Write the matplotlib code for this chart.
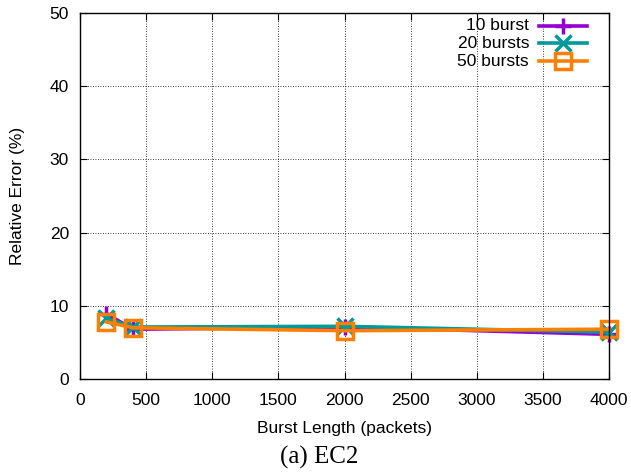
import numpy as np
import matplotlib.pyplot as plt
from matplotlib.lines import Line2D

burst_len = [200, 400, 2000, 4000]
err_10 = [8.9, 6.8, 7.1, 6.1]
err_20 = [8.3, 7.1, 7.2, 6.4]
err_50 = [7.8, 7.0, 6.6, 6.8]
labels = ['10 burst', '20 bursts', '50 bursts']

colors = ['#9400d3', '#009a9a', '#ff7f00']
markers = ['+', 'x', 's']

plt.rcParams['font.family'] = ['Liberation Sans', 'DejaVu Sans']
plt.rcParams['font.size'] = 12.5

fig = plt.figure(figsize=(6.31, 4.74), dpi=100)
ax = fig.add_axes([80/631, 1-379/474, 529/631, 366/474])

for y, c, m in zip([err_10, err_20, err_50], colors, markers):
    ax.plot(burst_len, y, color=c, lw=2.6, marker=m, ms=12, mew=2.5,
            mfc='none', clip_on=False)

ax.set_xlim(0, 4000)
ax.set_ylim(0, 50)
ax.set_xticks(np.arange(0, 4001, 500))
ax.set_yticks(np.arange(0, 51, 10))
ax.grid(True, color='black', linestyle=(0, (1, 2)), linewidth=0.6)
ax.tick_params(direction='in', top=True, right=True, length=5, width=0.8)
ax.tick_params(axis='x', pad=10)
ax.tick_params(axis='y', pad=8)
for s in ax.spines.values():
    s.set_linewidth(1.0)

ax.set_xlabel('Burst Length (packets)')
ax.set_ylabel('Relative Error (%)')
ax.xaxis.label.set_va('center')
ax.yaxis.label.set_va('center')
ax.xaxis.set_label_coords(0.5, (379 - 429) / 366)
ax.yaxis.set_label_coords((18 - 80) / 529, 0.5)

# gnuplot-style key: text right-aligned, sample on the right
rows_y = [26, 43, 61]
for lab, c, m, yp in zip(labels, colors, markers, rows_y):
    ya = 1 - (yp - 13) / 366
    ax.text((529 - 80) / 529, ya, lab, transform=ax.transAxes, ha='right', va='center')
    ax.add_line(Line2D([(539 - 80) / 529, (587 - 80) / 529], [ya, ya], transform=ax.transAxes,
                       color=c, lw=2.6, clip_on=False))
    ax.add_line(Line2D([(563 - 80) / 529], [ya], transform=ax.transAxes, color=c,
                       marker=m, ms=12, mew=2.5, mfc='none', clip_on=False))

fig.text(319/631, 1-457/474, '(a) EC2', ha='center', va='center',
         family=['Liberation Serif', 'DejaVu Serif'], fontsize=18)

fig.savefig('out.png', dpi=100)
